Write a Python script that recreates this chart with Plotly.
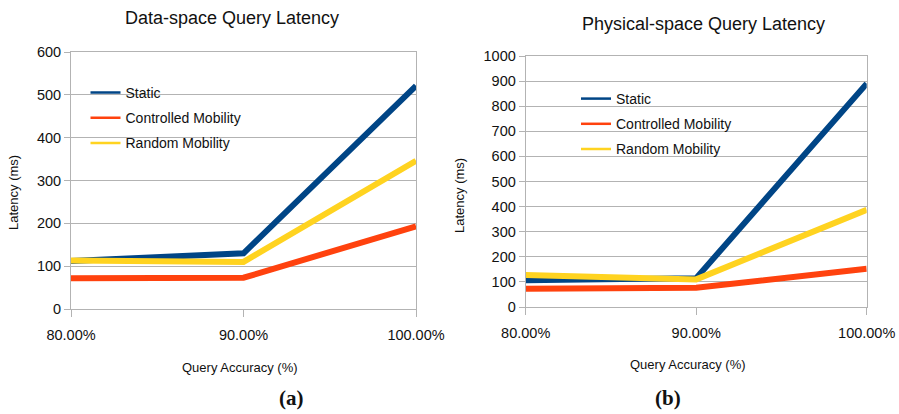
import plotly.graph_objects as go

W, H = 899, 414

accuracy = [80, 90, 100]
accuracy_labels = ["80.00%", "90.00%", "100.00%"]
series_names = ["Static", "Controlled Mobility", "Random Mobility"]

data_static = [112, 130, 521]
data_controlled = [72, 73, 193]
data_random = [113, 110, 346]

phys_static = [107, 115, 890]
phys_controlled = [73, 77, 152]
phys_random = [127, 110, 387]

colors = ["#004586", "#ff420e", "#ffd320"]
FONT = "Liberation Sans, Arial, sans-serif"

def px_x(p):
    return p / W

def px_y(p):
    return 1 - p / H

fig = go.Figure()

panels = [
    ([data_static, data_controlled, data_random], "x", "y", "legend"),
    ([phys_static, phys_controlled, phys_random], "x2", "y2", "legend2"),
]
for k, (vals, xa, ya, lg) in enumerate(panels):
    for i, (name, v) in enumerate(zip(series_names, vals)):
        grp = f"{lg}-{i}"
        fig.add_trace(go.Scatter(
            x=accuracy, y=v, mode="lines", name=name,
            line=dict(color=colors[i], width=6),
            xaxis=xa, yaxis=ya, showlegend=False, legendgroup=grp, legend=lg,
            hoverinfo="skip",
        ))
    for i, name in enumerate(series_names):
        grp = f"{lg}-{i}"
        fig.add_trace(go.Scatter(
            x=[None], y=[None], mode="lines", name=name,
            line=dict(color=colors[i], width=2.5),
            xaxis=xa, yaxis=ya, showlegend=True, legendgroup=grp, legend=lg,
        ))

grid = "#b3b3b3"
common_x = dict(
    tickvals=accuracy, ticktext=accuracy_labels, range=[80, 100],
    showgrid=False, showline=True, linecolor=grid, linewidth=1, mirror=True,
    ticks="outside", ticklen=7, tickcolor=grid, ticklabelstandoff=6,
    tickfont=dict(family=FONT, size=14.5, color="#111"), zeroline=False,
    automargin=False,
)
common_y = dict(
    showgrid=True, gridcolor=grid, gridwidth=1, showline=True, linecolor=grid,
    linewidth=1, mirror=True, ticks="outside", ticklen=6, tickcolor=grid,
    tickfont=dict(family=FONT, size=14.5, color="#111"), zeroline=False,
    automargin=False,
)

fig.update_layout(
    width=W, height=H, margin=dict(l=0, r=0, t=0, b=0, autoexpand=False),
    paper_bgcolor="white", plot_bgcolor="white",
    font=dict(family=FONT, color="#111"),
    xaxis=dict(domain=[px_x(71), px_x(416)], anchor="y", **common_x),
    yaxis=dict(domain=[px_y(309), px_y(52)], anchor="x", range=[0, 600], dtick=100, **common_y),
    xaxis2=dict(domain=[px_x(525.7), px_x(866.7)], anchor="y2", **common_x),
    yaxis2=dict(domain=[px_y(307), px_y(56)], anchor="x2", range=[0, 1000], dtick=100, **common_y),
    legend=dict(x=px_x(85.5), y=px_y(77), xanchor="left", yanchor="top",
                bgcolor="rgba(0,0,0,0)", font=dict(family=FONT, size=14, color="#111"),
                tracegroupgap=4, itemwidth=30),
    legend2=dict(x=px_x(576), y=px_y(83), xanchor="left", yanchor="top",
                 bgcolor="rgba(0,0,0,0)", font=dict(family=FONT, size=14, color="#111"),
                 tracegroupgap=4, itemwidth=30),
)

ann = [
    ("Data-space Query Latency", 232, 18, 18, FONT, 0),
    ("Physical-space Query Latency", 703, 24, 18, FONT, 0),
    ("Query Accuracy (%)", 240, 367, 13, FONT, 0),
    ("Query Accuracy (%)", 688, 364, 13, FONT, 0),
    ("Latency (ms)", 13, 193, 13, FONT, -90),
    ("Latency (ms)", 459, 195, 13, FONT, -90),
    ("<b>(a)</b>", 291, 398, 21, "Liberation Serif, Times New Roman, serif", 0),
    ("<b>(b)</b>", 668, 398, 21, "Liberation Serif, Times New Roman, serif", 0),
]
for text, x, y, size, fam, rot in ann:
    fig.add_annotation(
        text=text, x=px_x(x), y=px_y(y), xref="paper", yref="paper",
        xanchor="center", yanchor="middle", showarrow=False, textangle=rot,
        font=dict(family=fam, size=size, color="#111"),
    )

fig.write_html(
    "out.html",
    config={"displayModeBar": False},
    post_script="document.body.style.margin='0';document.body.style.overflow='hidden';",
)
